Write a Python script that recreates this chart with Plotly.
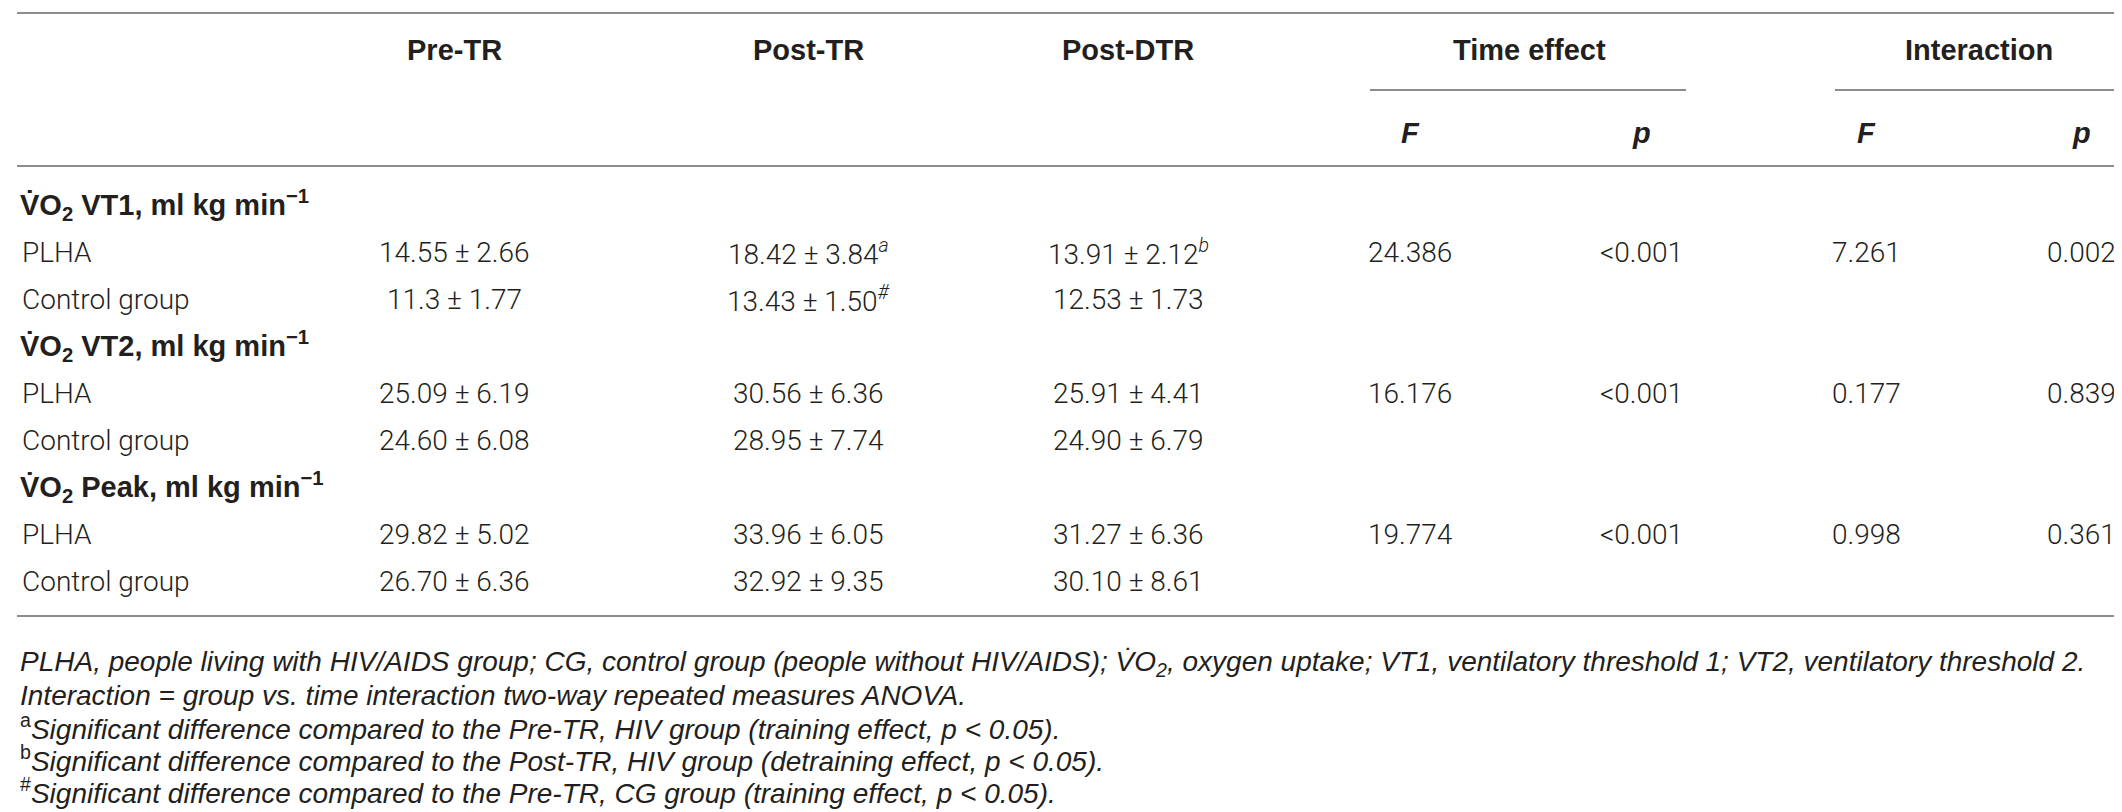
import plotly.graph_objects as go

# table content
periods = ['Pre-TR', 'Post-TR', 'Post-DTR']
measures = ['V\u0307O<sub>2</sub> VT1, ml kg min<sup>\u22121</sup>',
            'V\u0307O<sub>2</sub> VT2, ml kg min<sup>\u22121</sup>',
            'V\u0307O<sub>2</sub> Peak, ml kg min<sup>\u22121</sup>']
groups = ['PLHA', 'Control group']

pre_tr = ['14.55 \u00b1 2.66', '11.3 \u00b1 1.77', '25.09 \u00b1 6.19',
          '24.60 \u00b1 6.08', '29.82 \u00b1 5.02', '26.70 \u00b1 6.36']
post_tr = ['18.42 \u00b1 3.84', '13.43 \u00b1 1.50', '30.56 \u00b1 6.36',
           '28.95 \u00b1 7.74', '33.96 \u00b1 6.05', '32.92 \u00b1 9.35']
post_tr_marks = ['a', '#', '', '', '', '']
post_dtr = ['13.91 \u00b1 2.12', '12.53 \u00b1 1.73', '25.91 \u00b1 4.41',
            '24.90 \u00b1 6.79', '31.27 \u00b1 6.36', '30.10 \u00b1 8.61']
post_dtr_marks = ['b', '', '', '', '', '']

time_F = ['24.386', '16.176', '19.774']
time_p = ['<0.001', '<0.001', '<0.001']
inter_F = ['7.261', '0.177', '0.998']
inter_p = ['0.002', '0.839', '0.361']

note_marks = ['', '', 'a', 'b', '#']
footnotes = [
    'PLHA, people living with HIV/AIDS group; CG, control group (people without HIV/AIDS); '
    'V\u0307O<sub>2</sub>, oxygen uptake; VT1, ventilatory threshold 1; VT2, ventilatory threshold 2.',
    'Interaction = group vs. time interaction two-way repeated measures ANOVA.',
    'Significant difference compared to the Pre-TR, HIV group (training effect, p < 0.05).',
    'Significant difference compared to the Post-TR, HIV group (detraining effect, p < 0.05).',
    'Significant difference compared to the Pre-TR, CG group (training effect, p < 0.05).',
]

# layout (pixels, page is 2122 x 812)
W, H = 2122, 812
period_x = [446, 800, 1120]
stat_x = [1402, 1633, 1858, 2073]
label_x = 10
row_y0, row_dy = 197, 47
rule_color = '#8c8c8c'
ink = '#231f20'
body = dict(family='Roboto', size=28, color=ink, weight=300)
head = dict(family='Liberation Sans', size=29, color=ink, weight=700)
foot = dict(family='Liberation Sans', size=28, color=ink)

fig = go.Figure()
ann = []


def txt(x, y, s, font, anchor='center'):
    ann.append(dict(x=x, y=y, xref='x', yref='y', text=s, showarrow=False,
                    xanchor=anchor, yanchor='middle', font=font))


# header
for name, x in zip(periods, period_x):
    txt(x, 42, name, head)
txt(1521, 42, 'Time effect', head)
txt(1971, 42, 'Interaction', head)
for s, x in zip(['F', 'p', 'F', 'p'], stat_x):
    txt(x, 125, '<i>' + s + '</i>', head)

# body rows
for m, label in enumerate(measures):
    y = row_y0 + m * 3 * row_dy
    txt(label_x, y, label, head, anchor='left')
    for g, gname in enumerate(groups):
        i = m * 2 + g
        yy = y + (g + 1) * row_dy
        txt(label_x + 2, yy, gname, body, anchor='left')
        txt(period_x[0], yy, pre_tr[i], body)
        s = post_tr[i] + ('<sup><i>' + post_tr_marks[i] + '</i></sup>' if post_tr_marks[i] else '')
        txt(period_x[1], yy, s, body)
        s = post_dtr[i] + ('<sup><i>' + post_dtr_marks[i] + '</i></sup>' if post_dtr_marks[i] else '')
        txt(period_x[2], yy, s, body)
        if g == 0:
            for vals, x in zip([time_F, time_p, inter_F, inter_p], stat_x):
                txt(x, yy, vals[m], body)

# footnotes
for k, (mk, note) in enumerate(zip(note_marks, footnotes)):
    s = ('<sup>' + mk + '</sup>' if mk else '') + '<i>' + note + '</i>'
    txt(label_x, 655 + k * 32, s, foot, anchor='left')

shapes = []
for y0, xa, xb in [(5, 9, 2117), (158, 9, 2117), (608, 9, 2117), (82, 1362, 1678), (82, 1827, 2117)]:
    shapes.append(dict(type='line', xref='x', yref='y', x0=xa, x1=xb, y0=y0, y1=y0,
                       line=dict(color=rule_color, width=2)))

fig.update_layout(
    width=W, height=H,
    margin=dict(l=0, r=0, t=0, b=0),
    paper_bgcolor='white', plot_bgcolor='white',
    xaxis=dict(range=[0, W], visible=False, fixedrange=True),
    yaxis=dict(range=[H, 0], visible=False, fixedrange=True),
    annotations=ann, shapes=shapes,
    showlegend=False,
)

fig.write_html('out.html')
